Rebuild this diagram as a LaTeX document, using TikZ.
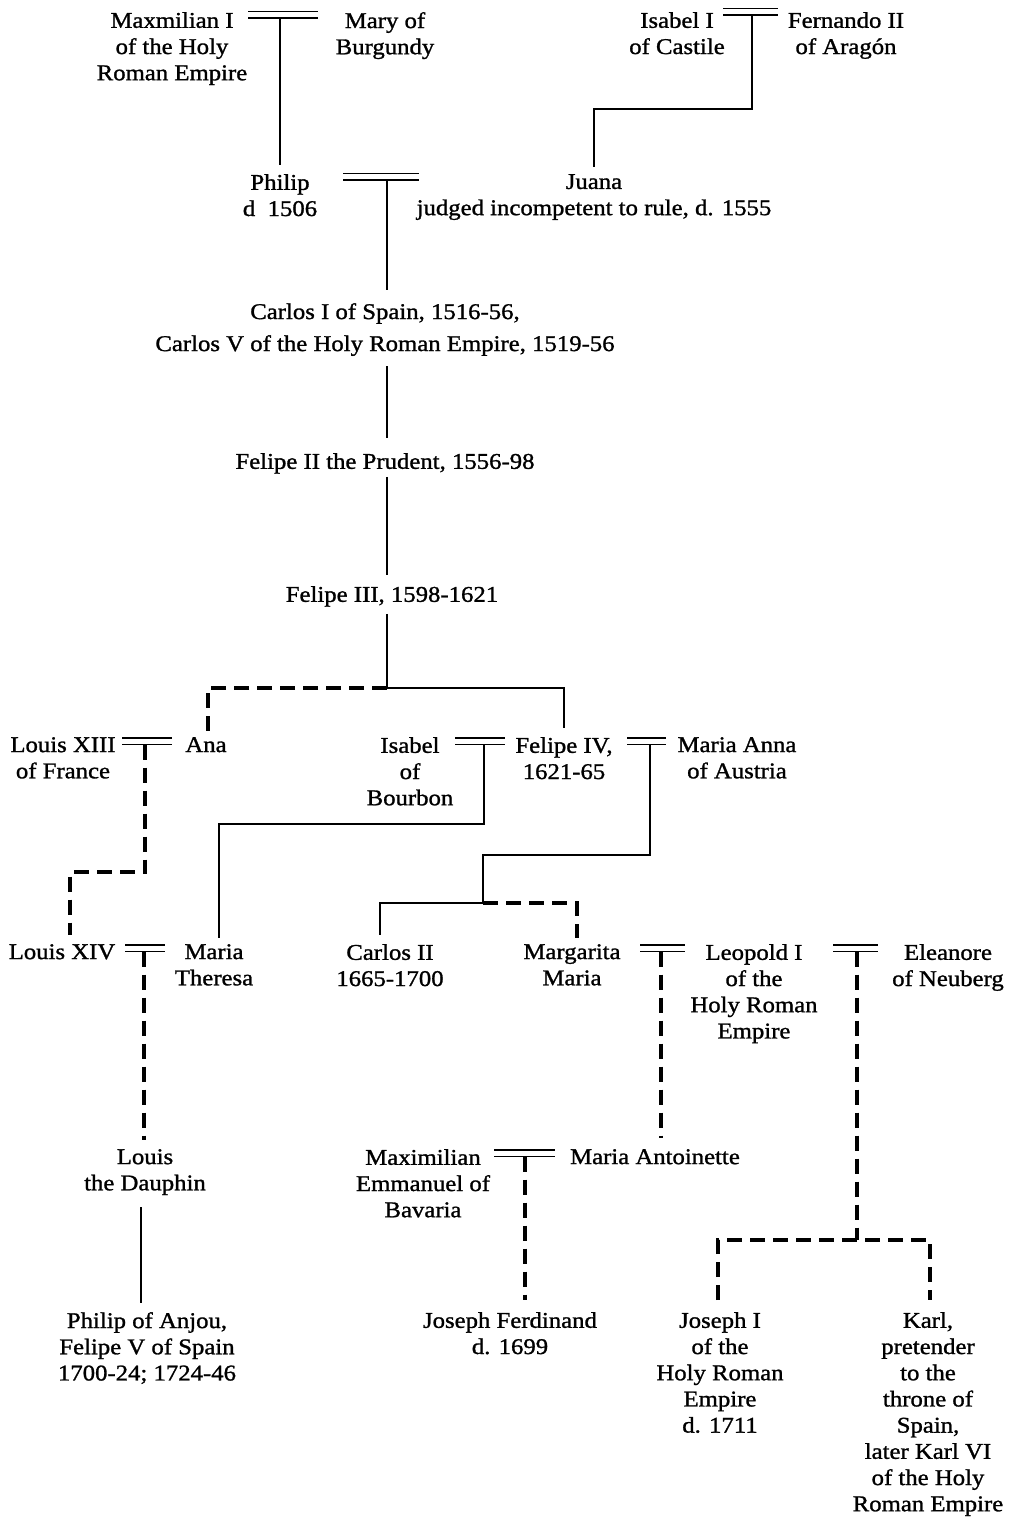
\documentclass[tikz,border=0pt]{standalone}
\usepackage{fontspec}
\setmainfont{Liberation Serif}[FakeStretch=1.1, FakeBold=1.2]
\begin{document}
\begin{tikzpicture}[x=1pt,y=-1pt,
  person/.style={align=center, inner sep=0pt, anchor=north, font=\fontsize{22.5}{26.2}\selectfont},
  solidln/.style={line width=1.7pt},
  dashln/.style={line width=3.8pt, dash pattern=on 15pt off 8pt},
  pics/marr/.style 2 args={code={
    \draw[line width=1.6pt] (-#1,0) -- (#2,0) (-#1,6.5) -- (#2,6.5);
    \coordinate (-j) at (0,6.5);}}]
\path[use as bounding box] (0,0) rectangle (1010,1517);

% ---- row 1
\node[person] (max) at (172,12) {Maxmilian I\\of the Holy\\Roman Empire};
\node[person] (mary) at (385,12) {Mary of\\Burgundy};
\node[person] (isabel) at (677,12) {Isabel I\\of Castile};
\node[person] (fernando) at (846,12) {Fernando II\\of Aragón};
\pic (m1) at (280,11.5) {marr={32}{38}};
\pic (m2) at (752,8.5) {marr={29}{26}};

% ---- row 2
\node[person] (philip) at (280,174) {Philip\\d\ \ 1506};
\node[person] (juana) at (594,174) {Juana\\judged incompetent to rule, d. 1555};
\pic (m3) at (387,173.5) {marr={44}{32}};

% ---- main line
\node[person, font=\fontsize{22.5}{32}\selectfont] (carlos) at (385,303) {Carlos I of Spain, 1516-56,\\Carlos V of the Holy Roman Empire, 1519-56};
\node[person] (felipe2) at (385,453) {Felipe II the Prudent, 1556-98};
\node[person] (felipe3) at (392,586) {Felipe III, 1598-1621};
\coordinate (j3) at (387,688);

% ---- row 4
\node[person] (louis13) at (63,737) {Louis XIII\\of France};
\node[person] (ana) at (206,737) {Ana};
\node[person] (isabelb) at (410,737) {Isabel\\of\\Bourbon};
\node[person] (felipe4) at (564,737) {Felipe IV,\\1621-65};
\node[person] (mariaanna) at (737,737) {Maria Anna\\of Austria};
\pic (m4) at (145,738) {marr={23}{27}};
\pic (m5) at (484,738) {marr={29}{21}};
\pic (m6) at (650,738) {marr={23}{16}};

% ---- row 5
\node[person] (louis14) at (62,944) {Louis XIV};
\node[person] (mariath) at (214,944) {Maria\\Theresa};
\node[person] (carlos2) at (390,944) {Carlos II\\1665-1700};
\node[person] (margarita) at (572,944) {Margarita\\Maria};
\node[person] (leopold) at (754,944) {Leopold I\\of the\\Holy Roman\\Empire};
\node[person] (eleanore) at (948,944) {Eleanore\\of Neuberg};
\pic (m7) at (144,945) {marr={19}{21}};
\pic (m8) at (661,945) {marr={21}{24}};
\pic (m9) at (857,945) {marr={24}{21}};

% ---- row 6
\node[person] (dauphin) at (145,1149) {Louis\\the Dauphin};
\node[person] (maxem) at (423,1149) {Maximilian\\Emmanuel of\\Bavaria};
\node[person] (antoinette) at (655,1149) {Maria Antoinette};
\pic (m10) at (525,1150) {marr={31}{30}};

% ---- row 7
\node[person] (anjou) at (147,1312) {Philip of Anjou,\\Felipe V of Spain\\1700-24; 1724-46};
\node[person] (josephf) at (510,1312) {Joseph Ferdinand\\d. 1699};
\node[person] (joseph1) at (720,1312) {Joseph I\\of the\\Holy Roman\\Empire\\d. 1711};
\node[person] (karl) at (928,1312) {Karl,\\pretender\\to the\\throne of\\Spain,\\later Karl VI\\of the Holy\\Roman Empire};

% ---- junction coordinates
\coordinate (b2) at (752,109);
\coordinate (k4) at (70,872);
\coordinate (k5) at (219,824);
\coordinate (k6a) at (483,855);
\coordinate (k6b) at (483,903);
\coordinate (k6c) at (380,903);
\coordinate (k6d) at (577,903);
\coordinate (k9) at (857,1240);
\coordinate (k9l) at (718,1240);
\coordinate (k9r) at (930,1240);
\coordinate (jd) at (141,1200);

% ---- connectors
\draw[solidln, shorten >=9pt] (m1-j) -- (m1-j |- philip.north);
\draw[solidln, shorten >=7pt] (m2-j) -- (b2) -| (juana.north);
\draw[solidln, shorten >=13pt] (m3-j) -- (m3-j |- carlos.north);
\draw[solidln, shorten <=10pt, shorten >=15pt] (carlos.south -| m3-j) -- (felipe2.north -| m3-j);
\draw[solidln, shorten <=3pt, shorten >=11pt] (felipe2.south -| m3-j) -- (felipe3.north -| m3-j);
\draw[solidln, shorten <=7pt] (felipe3.south -| j3) -- (j3);
\draw[solidln, shorten >=9pt] (j3) -| (felipe4.north);
\draw[dashln, shorten >=4pt] (j3) -| ([xshift=2pt]ana.north);

\draw[dashln, shorten >=9pt] (m4-j) |- (k4) -- (k4 |- louis14.north);
\draw[solidln, shorten >=6pt] (m5-j) |- (k5) -- (k5 |- mariath.north);
\draw[solidln] (m6-j) |- (k6a) -- (k6b);
\draw[solidln, shorten >=9pt] (k6b) -- (k6c) -- (k6c |- carlos2.north);
\draw[dashln, shorten >=6pt] (k6b) -- (k6d) -- (k6d |- margarita.north);

\draw[dashln, shorten >=9pt] (m7-j) -- (m7-j |- dauphin.north);
\draw[solidln, shorten <=12pt, shorten >=9pt] (dauphin.south -| jd) -- (anjou.north -| jd);
\draw[dashln, shorten >=11pt] (m8-j) -- (m8-j |- antoinette.north);
\draw[dashln, shorten >=12pt] (m10-j) -- (m10-j |- josephf.north);
\draw[dashln] (m9-j) -- (k9);
\draw[dashln, shorten <=12pt, shorten >=12pt] (k9l |- joseph1.north) -- (k9l) -- (k9r) -- (k9r |- karl.north);
\end{tikzpicture}
\end{document}
